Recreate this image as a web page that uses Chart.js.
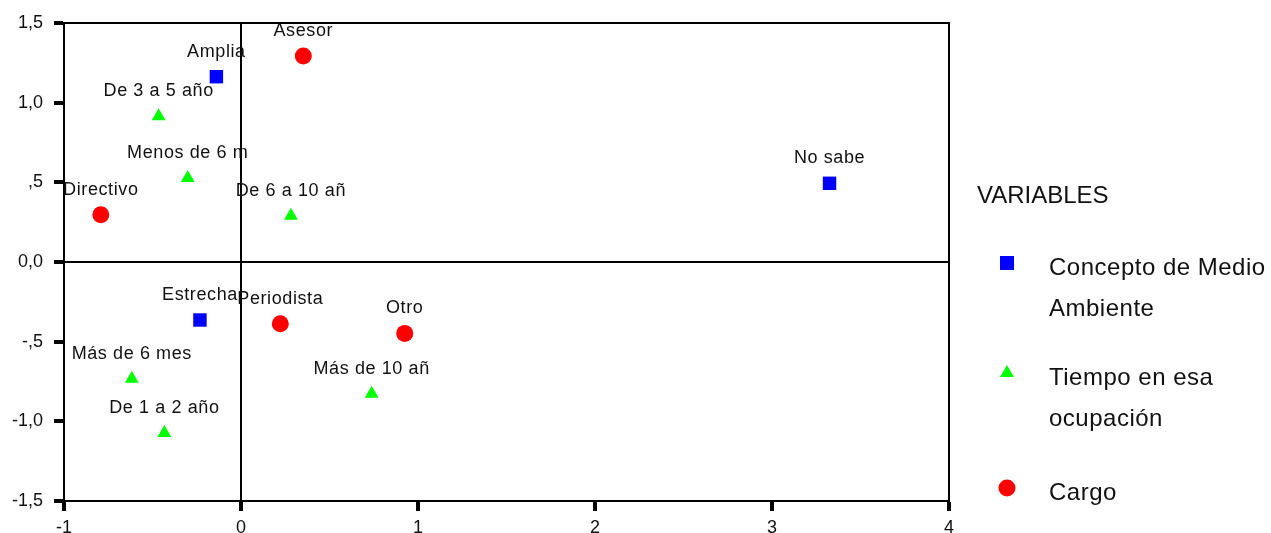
<!DOCTYPE html>
<html>
<head>
<meta charset="utf-8">
<script src="https://cdn.jsdelivr.net/npm/chart.js@4"></script>
<style>
  html, body { margin: 0; padding: 0; background: #fff; }
  canvas { display: block; }
</style>
</head>
<body>
<canvas id="mapChart" width="1271" height="533"></canvas>
<script>
// point coordinates
const conceptoNames = ['Amplia', 'Estrecha', 'No sabe'];
const conceptoX = [-0.139, -0.232, 3.325];
const conceptoY = [1.163, -0.364, 0.494];

const tiempoNames = ['De 3 a 5 año', 'Menos de 6 m', 'De 6 a 10 añ', 'Más de 6 mes', 'De 1 a 2 año', 'Más de 10 añ'];
const tiempoX = [-0.465, -0.301, 0.282, -0.617, -0.433, 0.738];
const tiempoY = [0.915, 0.527, 0.291, -0.733, -1.073, -0.827];

const cargoNames = ['Asesor', 'Directivo', 'Periodista', 'Otro'];
const cargoX = [0.352, -0.792, 0.222, 0.925];
const cargoY = [1.293, 0.297, -0.387, -0.448];

const seriesLegend = [['Concepto de Medio', 'Ambiente'], ['Tiempo en esa', 'ocupación'], ['Cargo']];
const legendTitle = 'VARIABLES';

const xTickValues = [-1, 0, 1, 2, 3, 4];
const xTickLabels = ['-1', '0', '1', '2', '3', '4'];
const yTickValues = [-1.5, -1, -0.5, 0, 0.5, 1, 1.5];
const yTickLabels = ['-1,5', '-1,0', '-,5', '0,0', ',5', '1,0', '1,5'];

const FONT = 'Arial, "Liberation Sans", sans-serif';

function toPoints(xs, ys) {
  return xs.map((x, i) => ({ x: x, y: ys[i] }));
}

function tickText(values, labels) {
  return (v) => {
    const i = values.findIndex(t => Math.abs(t - v) < 1e-6);
    return i >= 0 ? labels[i] : '';
  };
}

// labels above each point, taken from the point positions the chart computed
const pointLabelPlugin = {
  id: 'pointLabels',
  afterDatasetsDraw(chart) {
    const ctx = chart.ctx;
    ctx.save();
    ctx.font = '18px ' + FONT;
    ctx.letterSpacing = '0.6px';
    ctx.fillStyle = '#111';
    ctx.textAlign = 'center';
    ctx.textBaseline = 'middle';
    chart.data.datasets.forEach((ds, i) => {
      chart.getDatasetMeta(i).data.forEach((pt, j) => {
        ctx.fillText(ds.pointNames[j], pt.x, pt.y - 25);
      });
    });
    ctx.restore();
  }
};

// closes the box on the top and right
const framePlugin = {
  id: 'frame',
  afterDraw(chart) {
    const a = chart.chartArea;
    const ctx = chart.ctx;
    ctx.save();
    ctx.strokeStyle = '#000';
    ctx.lineWidth = 2;
    ctx.beginPath();
    ctx.moveTo(a.left, a.top);
    ctx.lineTo(a.right, a.top);
    ctx.lineTo(a.right, a.bottom);
    ctx.stroke();
    ctx.restore();
  }
};

function drawMarker(ctx, style, x, y) {
  ctx.beginPath();
  if (style === 'rect') {
    ctx.rect(x - 7, y - 7, 14, 14);
  } else if (style === 'triangle') {
    ctx.moveTo(x, y - 8);
    ctx.lineTo(x + 7, y + 4);
    ctx.lineTo(x - 7, y + 4);
    ctx.closePath();
  } else {
    ctx.arc(x, y, 8.5, 0, Math.PI * 2);
  }
  ctx.fill();
}

const sideLegendPlugin = {
  id: 'sideLegend',
  afterDraw(chart) {
    const ctx = chart.ctx;
    const left = chart.chartArea.right + 28;
    const markerX = left + 30;
    const textX = left + 72;
    const rowY = [263, 373, 488];
    ctx.save();
    ctx.font = '24px ' + FONT;
    ctx.fillStyle = '#111';
    ctx.textBaseline = 'middle';
    ctx.fillText(legendTitle, left, 196);
    ctx.letterSpacing = '0.5px';
    chart.data.datasets.forEach((ds, i) => {
      ctx.fillStyle = ds.backgroundColor;
      drawMarker(ctx, ds.pointStyle, markerX, rowY[i]);
      ctx.fillStyle = '#111';
      ds.legendLines.forEach((line, k) => {
        ctx.fillText(line, textX, rowY[i] + 5 + k * 41);
      });
    });
    ctx.restore();
  }
};

new Chart(document.getElementById('mapChart'), {
  type: 'scatter',
  data: {
    datasets: [
      {
        label: seriesLegend[0].join(' '),
        legendLines: seriesLegend[0],
        pointNames: conceptoNames,
        data: toPoints(conceptoX, conceptoY),
        pointStyle: 'rect',
        backgroundColor: '#0000ff',
        pointRadius: 9.5,
        pointBorderWidth: 0,
      },
      {
        label: seriesLegend[1].join(' '),
        legendLines: seriesLegend[1],
        pointNames: tiempoNames,
        data: toPoints(tiempoX, tiempoY),
        pointStyle: 'triangle',
        backgroundColor: '#00ff00',
        pointRadius: 8,
        pointBorderWidth: 0,
      },
      {
        label: seriesLegend[2].join(' '),
        legendLines: seriesLegend[2],
        pointNames: cargoNames,
        data: toPoints(cargoX, cargoY),
        pointStyle: 'circle',
        backgroundColor: '#ff0000',
        pointRadius: 8.5,
        pointBorderWidth: 0,
      },
    ],
  },
  options: {
    responsive: false,
    animation: false,
    events: [],
    layout: { padding: { top: 23, right: 322, left: 0, bottom: 0 } },
    plugins: { legend: { display: false }, tooltip: { enabled: false } },
    scales: {
      x: {
        type: 'linear',
        min: -1, max: 4,
        afterFit: (s) => { s.height = 32; },
        ticks: {
          stepSize: 1, autoSkip: false, padding: 6, color: '#111',
          font: { size: 18, family: FONT },
          callback: tickText(xTickValues, xTickLabels),
        },
        grid: {
          color: (c) => (c.tick && c.tick.value === 0 ? '#000' : 'rgba(0,0,0,0)'),
          lineWidth: 2, tickColor: '#000', tickWidth: 4, tickLength: 10,
        },
        border: { display: true, color: '#000', width: 2 },
      },
      y: {
        type: 'linear',
        min: -1.5, max: 1.5,
        afterFit: (s) => { s.width = 64; },
        ticks: {
          stepSize: 0.5, autoSkip: false, padding: 11, color: '#111',
          font: { size: 18, family: FONT },
          callback: tickText(yTickValues, yTickLabels),
        },
        grid: {
          color: (c) => (c.tick && c.tick.value === 0 ? '#000' : 'rgba(0,0,0,0)'),
          lineWidth: 2, tickColor: '#000', tickWidth: 4, tickLength: 10,
        },
        border: { display: true, color: '#000', width: 2 },
      },
    },
  },
  plugins: [pointLabelPlugin, framePlugin, sideLegendPlugin],
});
</script>
</body>
</html>
